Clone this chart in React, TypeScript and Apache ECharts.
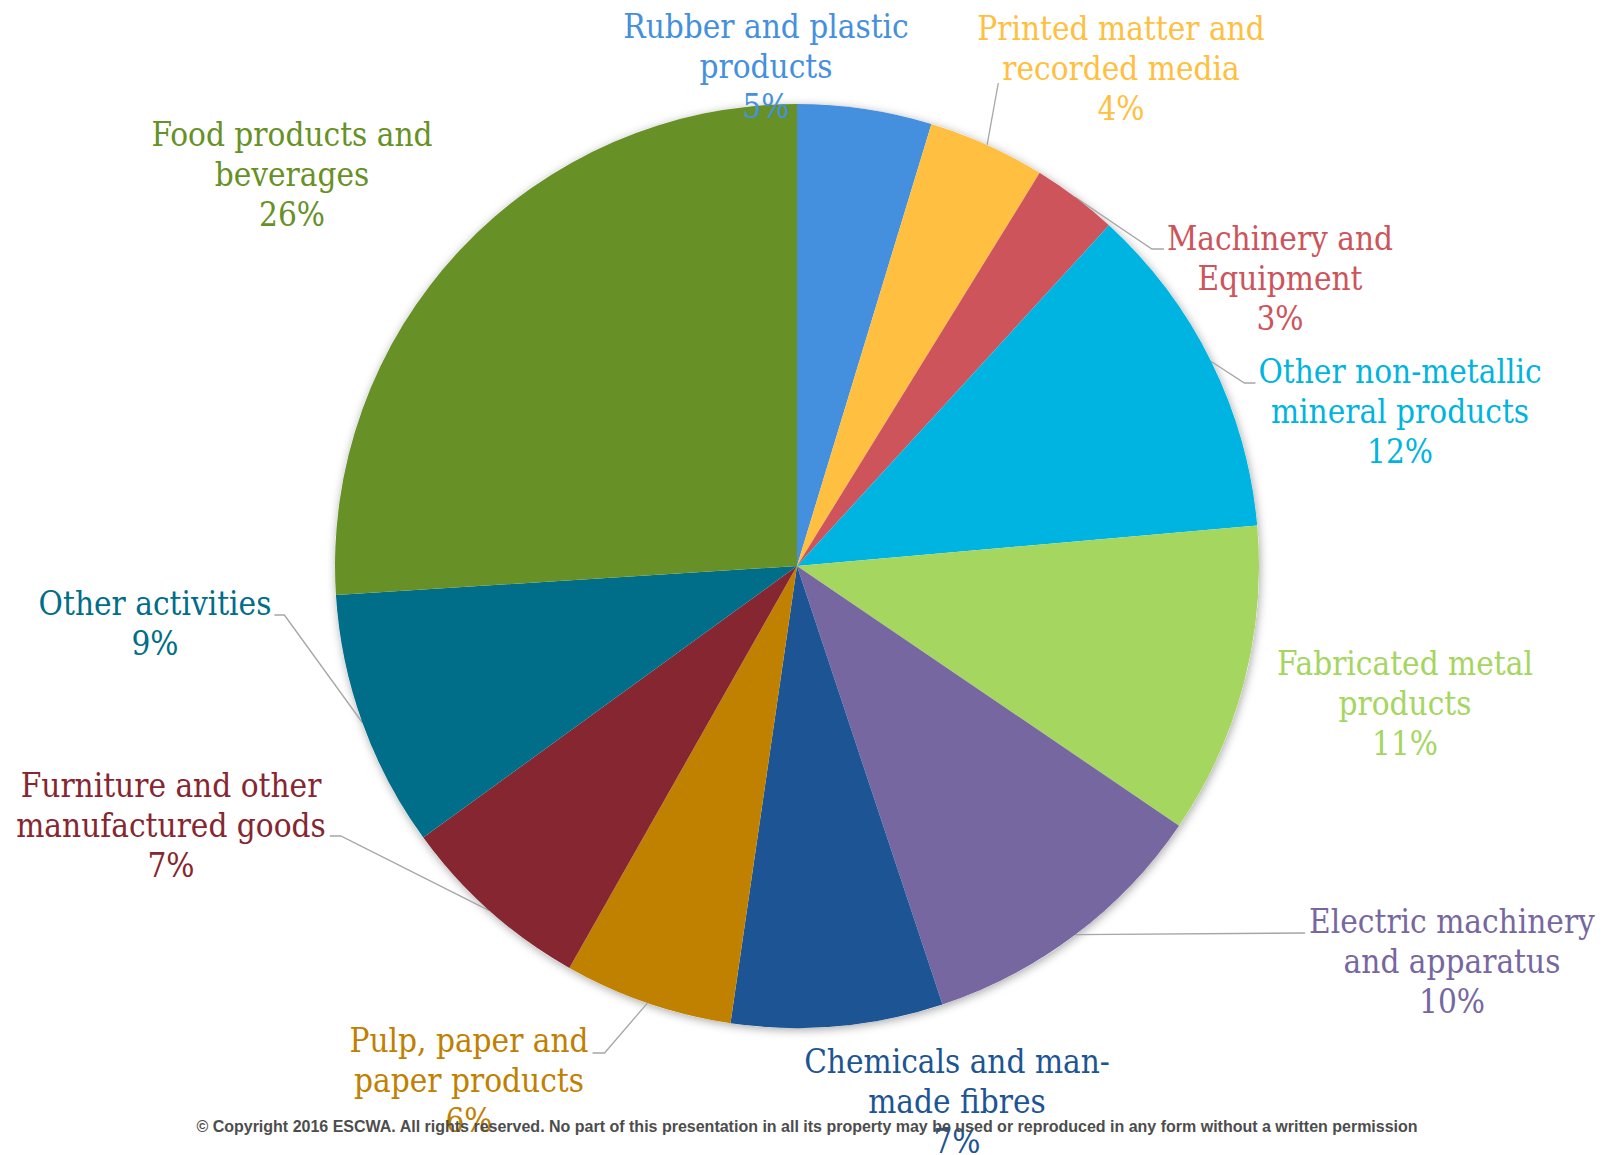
import React, { useEffect, useRef } from "react";
import * as echarts from "echarts";

// ---- data ----
const CATEGORIES = [
  "Rubber and plastic\nproducts",
  "Printed matter and\nrecorded media",
  "Machinery and\nEquipment",
  "Other non-metallic\nmineral products",
  "Fabricated metal\nproducts",
  "Electric machinery\nand apparatus",
  "Chemicals and man-\nmade fibres",
  "Pulp, paper and\npaper products",
  "Furniture and other\nmanufactured goods",
  "Other activities",
  "Food products and\nbeverages",
];
const SHARES = [4.7, 4.1, 3.0, 11.8, 10.9, 10.4, 7.4, 5.9, 6.8, 9.0, 26.0];
const COLORS = [
  "#4590DE",
  "#FFBF40",
  "#CD545B",
  "#00B4E1",
  "#A5D65F",
  "#7767A1",
  "#1D5594",
  "#C08000",
  "#862630",
  "#006D89",
  "#679126",
];
const HAS_LEADER = [false, true, true, true, false, true, false, true, true, true, false];
const COPYRIGHT =
  "© Copyright 2016 ESCWA. All rights reserved. No part of this presentation in all its property may be used or reproduced in any form without a written permission";

// ---- layout (positions of label blocks, leader attachment) ----
const CENTER = [797, 566];
const RADIUS = 462;
const LABEL_POS = [
  [766, 66],
  [1121, 68],
  [1280, 278],
  [1400, 411],
  [1405, 703],
  [1452, 961],
  [957, 1101],
  [469, 1080],
  [171, 825],
  [155, 623],
  [292, 174],
];
const LEADER_ATTACH: any[] = [
  null,
  { side: -1, gap: -21, dy: 15, stub: 0 },
  { side: -1, gap: 3, dy: -29, stub: 12 },
  { side: -1, gap: 3, dy: -28, stub: 11 },
  null,
  { side: -1, gap: 4, dy: -28, stub: 0 },
  null,
  { side: 1, gap: 4, dy: -27, stub: 12 },
  { side: 1, gap: 4, dy: 11, stub: 11 },
  { side: 1, gap: 3, dy: -8, stub: 10 },
  null,
];

const LABEL_FONT = '"DejaVu Serif Condensed", "DejaVu Serif", serif';

export default function App() {
  const ref = useRef<HTMLDivElement>(null);

  useEffect(() => {
    if (!ref.current) return;
    const chart = echarts.init(ref.current, undefined, { renderer: "svg" });
    const total = SHARES.reduce((a, b) => a + b, 0);

    const data = CATEGORIES.map((name, i) => ({
      name,
      value: SHARES[i],
      itemStyle: { color: COLORS[i] },
      label: { color: COLORS[i] },
      labelLine: { show: HAS_LEADER[i] },
    }));

    const midPoint = (i: number) => {
      let cum = 0;
      for (let k = 0; k < i; k++) cum += SHARES[k];
      const th = ((cum + SHARES[i] / 2) / total) * Math.PI * 2;
      return [CENTER[0] + RADIUS * Math.sin(th), CENTER[1] - RADIUS * Math.cos(th)];
    };

    chart.setOption({
      animation: false,
      backgroundColor: "#ffffff",
      series: [
        {
          type: "pie",
          silent: true,
          z: 1,
          center: CENTER,
          radius: RADIUS,
          label: { show: false },
          labelLine: { show: false },
          itemStyle: {
            color: "#ffffff",
            shadowBlur: 10,
            shadowColor: "rgba(0,0,0,0.35)",
            shadowOffsetX: 1,
            shadowOffsetY: 2,
          },
          data: [{ value: 1, name: "" }],
        },
        {
          type: "pie",
          z: 2,
          center: CENTER,
          radius: RADIUS,
          startAngle: 90,
          clockwise: true,
          avoidLabelOverlap: false,
          percentPrecision: 0,
          itemStyle: { borderWidth: 0 },
          label: {
            show: true,
            position: "outside",
            formatter: "{b}\n{d}%",
            fontFamily: LABEL_FONT,
            fontSize: 33,
            lineHeight: 40,
            align: "center",
          },
          labelLine: {
            show: true,
            length: 10,
            length2: 10,
            lineStyle: { color: "#A6A6A6", width: 1.3 },
          },
          labelLayout: (params: any) => {
            const i = params.dataIndex;
            const [x, y] = LABEL_POS[i];
            const out: any = { x, y, align: "center", verticalAlign: "middle" };
            const a = LEADER_ATTACH[i];
            if (a) {
              const w = params.labelRect ? params.labelRect.width : 0;
              const ex = x + a.side * (w / 2 + a.gap);
              const ey = y + a.dy;
              const start =
                params.labelLinePoints && params.labelLinePoints[0]
                  ? params.labelLinePoints[0]
                  : midPoint(i);
              const mid = a.stub ? [ex + a.side * a.stub, ey] : [ex, ey];
              out.labelLinePoints = [start, mid, [ex, ey]];
            }
            return out;
          },
          data,
        },
      ],
      graphic: [
        {
          type: "text",
          z: 100,
          x: 807,
          y: 1126,
          style: {
            text: COPYRIGHT,
            fill: "#4D4D4D",
            fontFamily: '"Liberation Sans Narrow", "Liberation Sans", Arial, sans-serif',
            fontWeight: "bold",
            fontSize: 16,
            align: "center",
            verticalAlign: "middle",
            textAlign: "center",
            textVerticalAlign: "middle",
          },
        },
      ],
    });

    return () => chart.dispose();
  }, []);

  return (
    <div
      ref={ref}
      style={{ position: "fixed", left: 0, top: 0, width: 1610, height: 1155, background: "#fff" }}
    />
  );
}
